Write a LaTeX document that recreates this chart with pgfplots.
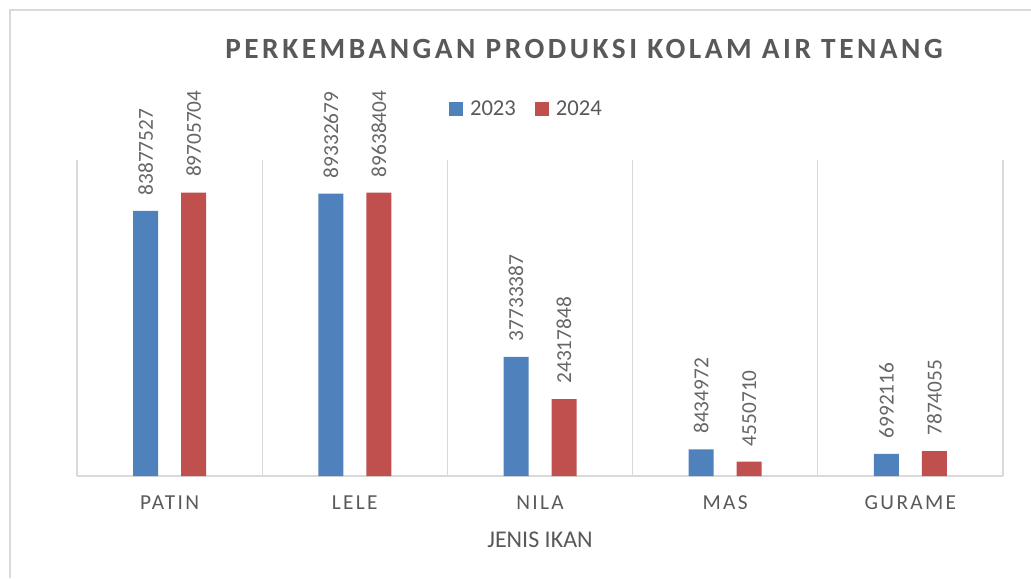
\documentclass[border=0pt]{standalone}
\usepackage{fontspec}
\setmainfont{Carlito}
\newfontfamily\ticksfont[LetterSpace=11]{Carlito}
\newfontfamily\titlefont[LetterSpace=12]{Carlito}
\usepackage{pgfplots}
\pgfplotsset{compat=1.18}
\definecolor{barblue}{HTML}{4F81BD}
\definecolor{barred}{HTML}{C0504D}
\definecolor{txtgray}{HTML}{595959}
\definecolor{lblgray}{HTML}{666666}
\definecolor{gridgray}{HTML}{D9D9D9}
\begin{document}
\begin{tikzpicture}
\useasboundingbox (0pt,0pt) rectangle (773.25pt,-433.5pt);
\draw[gridgray, line width=1pt] (7.5pt,-433.5pt) -- (7.5pt,-7.5pt) -- (773.25pt,-7.5pt);
\node[font=\titlefont\bfseries\fontsize{22}{26}\selectfont, text=txtgray, inner sep=0pt] at (438pt,-37.1pt) {PERKEMBANGAN PRODUKSI KOLAM AIR TENANG};
\begin{axis}[
  at={(57.75pt,-357pt)}, anchor=south west,
  scale only axis, width=694.5pt, height=237pt,
  ybar=17.25pt, bar width=18.75pt,
  xmin=-0.5, xmax=4.5, ymin=0, ymax=100000000,
  enlargelimits=false, clip=false,
  axis y line=none,
  axis x line*=bottom,
  x axis line style={gridgray, line width=1.2pt},
  xtick={0,1,2,3,4},
  xticklabels={PATIN,LELE,NILA,MAS,GURAME},
  major tick length=0pt, minor tick length=0pt,
  minor xtick={-0.5,0.5,1.5,2.5,3.5,4.5},
  xminorgrids,
  minor grid style={gridgray, line width=1pt},
  xticklabel style={font=\ticksfont\fontsize{16}{19}\selectfont, text=txtgray, anchor=center, yshift=-20.25pt},
  xlabel={JENIS IKAN},
  xlabel style={at={(axis description cs:0.5,-0.2009)}, anchor=center, font=\fontsize{18}{21}\selectfont, text=txtgray, inner sep=0pt},
  ylabel={PRODUKSI (KG)},
  ylabel style={at={(axis description cs:-0.0195,0.5)}, anchor=center, font=\fontsize{18}{21}\selectfont, text=txtgray, inner sep=0pt},
  point meta=explicit symbolic,
  nodes near coords={\pgfplotspointmeta},
  every node near coord/.append style={rotate=90, anchor=west, font=\fontsize{16}{19}\selectfont, text=lblgray, inner xsep=11.5pt, inner ysep=0pt},
  legend columns=2,
  legend style={at={(axis description cs:0.4843,1.1614)}, anchor=center, draw=none, fill=none,
    font=\fontsize{17}{20}\selectfont, text=txtgray,
    /tikz/every odd column/.append style={column sep=5.25pt},
    /tikz/every even column/.append style={column sep=14.25pt},
    nodes={inner sep=0pt, anchor=west}},
]
\addplot[fill=barblue, draw=none, legend image code/.code={\fill[barblue] (0pt,-5.25pt) rectangle (10.5pt,5.25pt);}]
  coordinates {(0,83877527) [83877527] (1,89332679) [89332679] (2,37733387) [37733387] (3,8434972) [8434972] (4,6992116) [6992116]};
\addlegendentry{2023}
\addplot[fill=barred, draw=none, legend image code/.code={\fill[barred] (0pt,-5.25pt) rectangle (10.5pt,5.25pt);}]
  coordinates {(0,89705704) [89705704] (1,89638404) [89638404] (2,24317848) [24317848] (3,4550710) [4550710] (4,7874055) [7874055]};
\addlegendentry{2024}
\end{axis}
\end{tikzpicture}
\end{document}
